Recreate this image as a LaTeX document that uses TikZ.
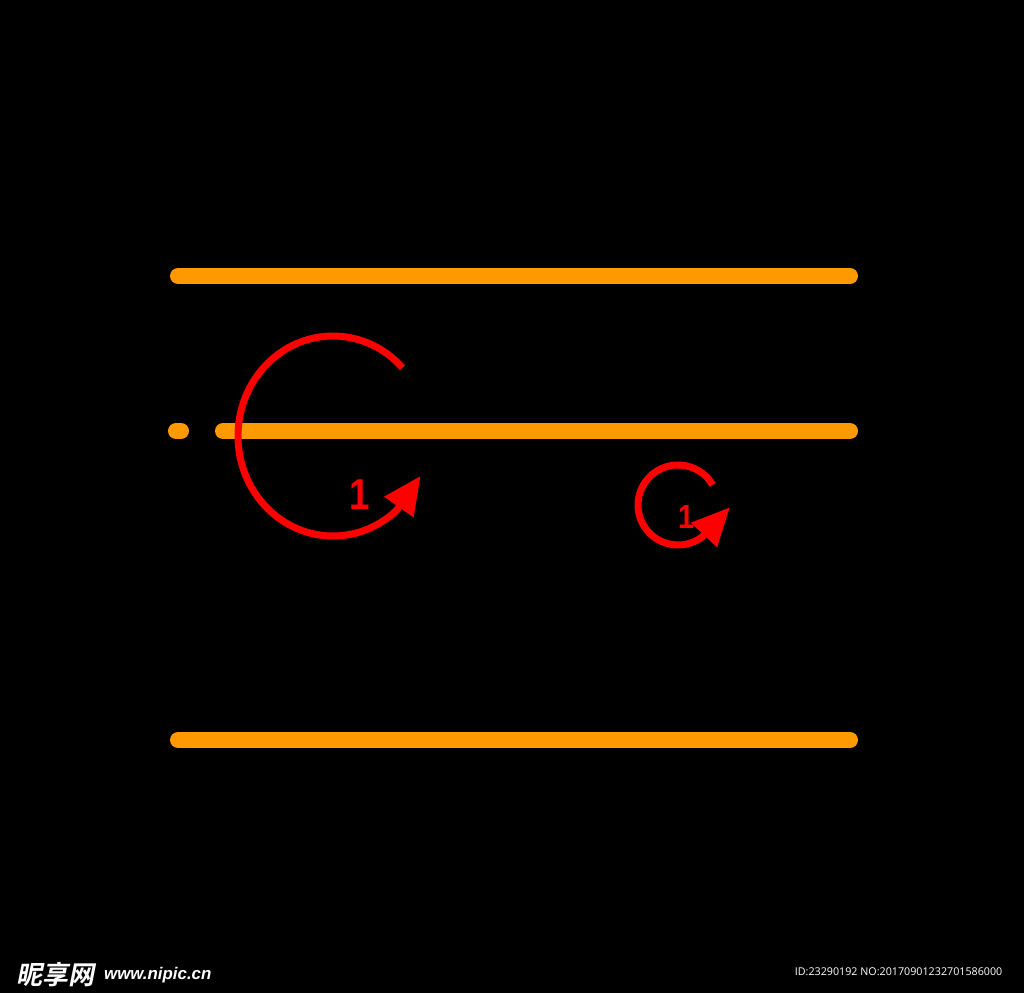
\documentclass[tikz,border=0pt]{standalone}
\usepackage{fontspec}
\setmainfont{Liberation Sans}
\newfontfamily\cjkfont[FakeSlant=0.2]{Noto Sans CJK SC Bold}
\newfontfamily\idfont{Open Sans}
\usetikzlibrary{arrows.meta, positioning, calc}
\definecolor{RailOrange}{HTML}{FF9900}
\definecolor{TurnRed}{HTML}{FF0000}

\begin{document}
\begin{tikzpicture}[
    x=0.01cm, y=0.01cm,
    rail_line/.style={
        draw=RailOrange,
        line width=0.16cm,
        line cap=round
    },
    turn_arrow/.style={
        draw=TurnRed,
        line width=0.07cm,
        -{Triangle[length=0.38cm, width=0.34cm]}
    },
    turn_label/.style={
        text=TurnRed,
        inner sep=0pt,
        xscale=0.85
    },
    mark_text/.style={
        text=white,
        inner sep=0pt
    }
]

% =========================
% BACKGROUND
% =========================
\fill[black] (0,0) rectangle (1024,993);
\useasboundingbox (0,0) rectangle (1024,993);

% =========================
% RAILS
% =========================
\draw[rail_line] (178,717) -- (850,717);
\draw[rail_line] (176,562) -- (181,562);
\draw[rail_line] (223,562) -- (850,562);
\draw[rail_line] (178,253) -- (850,253);

% =========================
% TURNS
% =========================
% Large turn
\draw[turn_arrow]
    ($(333,557)+(43:95 and 100)$)
    arc[start angle=43, end angle=312, x radius=95, y radius=100]
    -- ++(55:42);
\node[turn_label, font=\bfseries\fontsize{12.3}{13}\selectfont]
    (big_one) at (360,498) {1};

% Small turn
\draw[turn_arrow]
    ($(678,488)+(30:40)$)
    arc[start angle=30, end angle=308, radius=40]
    -- ++(47:40);
\node[turn_label, font=\bfseries\fontsize{9.5}{10}\selectfont]
    (small_one) at (686,476) {1};

% =========================
% MARKS
% =========================
\node[mark_text, anchor=west, font=\cjkfont\fontsize{7.4}{8}\selectfont]
    (wm_logo) at (16,18) {昵享网};
\node[mark_text, right=0.08cm of wm_logo, font=\bfseries\itshape\fontsize{4.8}{5}\selectfont]
    (wm_site) {www.nipic.cn};
\node[mark_text, anchor=east, font=\idfont\fontsize{3.05}{4}\selectfont]
    (wm_id) at (1003,21) {ID:23290192 NO:20170901232701586000};

\end{tikzpicture}
\end{document}
